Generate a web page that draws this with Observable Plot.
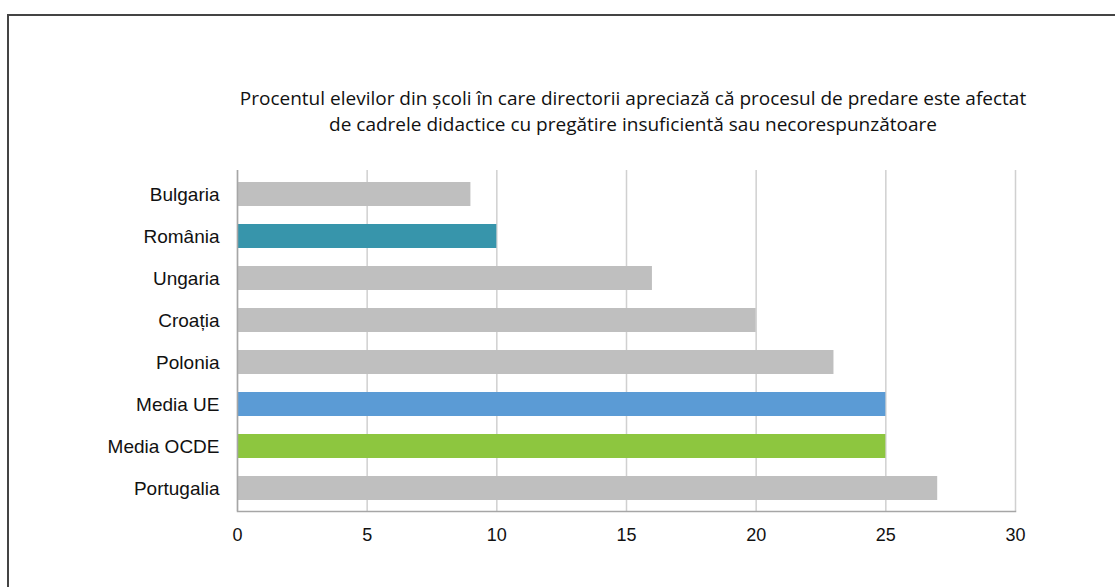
<!DOCTYPE html>
<html>
<head>
<meta charset="utf-8">
<script src="https://cdn.jsdelivr.net/npm/d3@7"></script>
<script src="https://cdn.jsdelivr.net/npm/@observablehq/plot@0.6"></script>
<style>
  html, body { margin: 0; padding: 0; background: #fff; }
  #wrap { position: relative; width: 1115px; height: 587px; overflow: hidden; }
  #border { position: absolute; left: 7px; top: 14px; right: -5px; bottom: -5px;
            border-top: 2px solid #444; border-left: 2px solid #444; }
  #title { position: absolute; left: 183px; width: 900px; top: 85px; text-align: center;
           font-family: "Open Sans", sans-serif; font-size: 19px; line-height: 26px; color: #111; }
  #chart { position: absolute; left: 0; top: 150px; }
</style>
</head>
<body>
<div id="wrap">
  <div id="border"></div>
  <div id="title">Procentul elevilor din școli în care directorii apreciază că procesul de predare este afectat<br>de cadrele didactice cu pregătire insuficientă sau necorespunzătoare</div>
  <div id="chart"></div>
</div>
<script>
const categories = ["Bulgaria", "România", "Ungaria", "Croația", "Polonia", "Media UE", "Media OCDE", "Portugalia"];
const values = [9, 10, 16, 20, 23, 25, 25, 27];
const barColors = ["#bfbfbf", "#3795ab", "#bfbfbf", "#bfbfbf", "#bfbfbf", "#5b9bd5", "#8dc63f", "#bfbfbf"];
const xTicks = [0, 5, 10, 15, 20, 25, 30];

const data = categories.map((c, i) => ({category: c, value: values[i], color: barColors[i]}));

const chart = Plot.plot({
  width: 1115,
  height: 437,
  marginLeft: 237,
  marginRight: 100,
  marginTop: 20,
  marginBottom: 76,
  style: {fontFamily: "'Liberation Sans', Arial, sans-serif", fontSize: "18px", fontWeight: "normal", color: "#111", background: "transparent"},
  x: {domain: [0, 30], label: null},
  y: {domain: categories, paddingInner: 0.437, paddingOuter: 0.22, label: null},
  marks: [
    Plot.ruleX(xTicks, {stroke: "#d0d0d0", strokeWidth: 1.5, strokeOpacity: 1}),
    Plot.barX(data, {x: "value", y: "category", fill: d => d.color}),
    Plot.ruleX([0], {stroke: "#a6a6a6", strokeWidth: 1.5}),
    Plot.frame({anchor: "bottom", stroke: "#a6a6a6", strokeWidth: 1.5}),
    Plot.axisX({ticks: xTicks, tickSize: 0, tickPadding: 17, fontSize: 18, label: null}),
    Plot.axisY({tickSize: 0, tickPadding: 18, fontSize: 19, label: null})
  ]
});
document.getElementById("chart").appendChild(chart);
</script>
</body>
</html>
